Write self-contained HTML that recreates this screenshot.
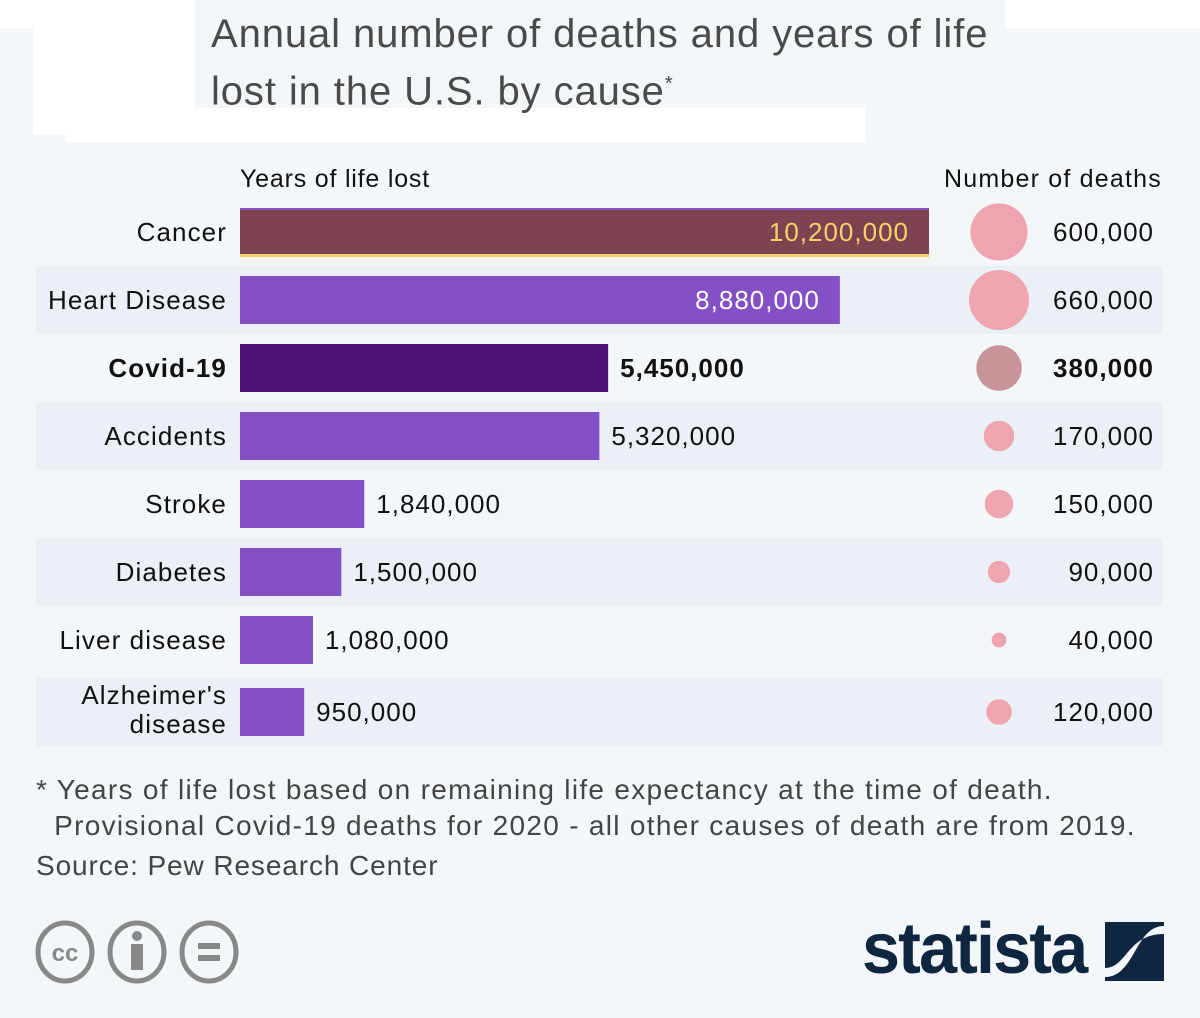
<!DOCTYPE html>
<html><head><meta charset="utf-8"><style>
body{margin:0;width:1200px;height:1018px;background:#f4f7fa;font-family:"Liberation Sans",sans-serif;position:relative;overflow:hidden}
.a{position:absolute}
</style></head><body>
<div class="a" style="left:0;top:0;width:195px;height:28px;background:#fff"></div>
<div class="a" style="left:1005px;top:0;width:195px;height:28px;background:#fff"></div>
<div class="a" style="left:33px;top:28px;width:162px;height:107px;background:#fff"></div>
<div class="a" style="left:65px;top:108px;width:800px;height:34px;background:#fff"></div>
<div class="a" style="left:211px;top:9px;font-size:40px;line-height:50px;color:#4a4a4a;letter-spacing:0.9px">Annual number of deaths and years of life<br>lost in the U.S. by cause<sup style="font-size:20px">*</sup></div>
<div class="a" style="left:240px;top:165px;font-size:25px;color:#111;letter-spacing:0.8px">Years of life lost</div>
<div class="a" style="left:944px;top:165px;font-size:25px;color:#111;letter-spacing:1.2px">Number of deaths</div>
<svg class="a" style="left:0;top:0" width="1200" height="1018" id="chart"></svg>
<div class="a" style="left:36px;top:772px;font-size:28px;line-height:36px;color:#444;letter-spacing:1.3px">* Years of life lost based on remaining life expectancy at the time of death.<br>&nbsp;&nbsp;Provisional Covid-19 deaths for 2020 - all other causes of death are from 2019.</div>
<div class="a" style="left:36px;top:850px;font-size:28px;color:#444;letter-spacing:0.9px">Source: Pew Research Center</div>
<svg class="a" style="left:30px;top:918px" width="220" height="70">
<g fill="none" stroke="#888" stroke-width="5"><ellipse cx="35" cy="34" rx="27" ry="29"/><ellipse cx="107" cy="34" rx="27" ry="29"/><ellipse cx="179" cy="34" rx="27" ry="29"/></g>
<text x="35" y="43" font-size="24" font-weight="bold" fill="#888" text-anchor="middle" font-family="Liberation Sans">cc</text>
<circle cx="107" cy="18" r="5" fill="#888"/><rect x="101" y="26" width="12" height="26" fill="#888"/>
<rect x="168" y="25" width="22" height="6" fill="#888"/><rect x="168" y="37" width="22" height="6" fill="#888"/></svg>
<div class="a" style="left:862px;top:908px;font-size:72px;font-weight:bold;color:#0f2640;letter-spacing:-2px;transform:scaleX(0.95);transform-origin:left">statista</div>
<svg class="a" style="left:1105px;top:922px" width="60" height="60"><rect width="59" height="59" fill="#0f2640"/><path d="M59 4 C30 4 30 55 0 55 L0 46 C22 46 22 12 59 12Z" fill="#f4f7fa"/></svg>
<script>
const categories=["Cancer","Heart Disease","Covid-19","Accidents","Stroke","Diabetes","Liver disease","Alzheimer's disease"];
const yearsLost=[10200000,8880000,5450000,5320000,1840000,1500000,1080000,950000];
const deaths=[600000,660000,380000,170000,150000,90000,40000,120000];
const yearsLabels=["10,200,000","8,880,000","5,450,000","5,320,000","1,840,000","1,500,000","1,080,000","950,000"];
const deathLabels=["600,000","660,000","380,000","170,000","150,000","90,000","40,000","120,000"];
const svg=document.getElementById('chart');const NS='http://www.w3.org/2000/svg';
const x=v=>v*67.55/1e6;const r=v=>30*Math.sqrt(v/660000);
const rowY=i=>i<7?232+68*i:712;
function mk(t,a){const e=document.createElementNS(NS,t);for(const k in a)e.setAttribute(k,a[k]);svg.appendChild(e);return e;}
categories.forEach((c,i)=>{
 const cy=rowY(i);
 if(i%2==1){const b=mk('rect',{x:36,y:i<7?cy-34:678,width:1127,height:68,fill:'#ebeff6'});
  
  }
 const bold=i==2;
 const col=i==0?'#7d4350':(bold?'#4f1279':'#8350c6');
 const w=x(yearsLost[i]);
 const bar=mk('rect',{x:240,y:cy-24,width:w,height:48,fill:col});
 
 
 if(i==0){mk('rect',{x:240,y:cy-24,width:w,height:2,fill:'#8350c6'});mk('rect',{x:240,y:cy+22,width:w,height:3,fill:'#f0d060'});}
 const inside=i<2;
 const vt=mk('text',{x:inside?240+w-20:240+w+12,y:cy+9,'font-size':26,'letter-spacing':1,'text-anchor':inside?'end':'start',fill:i==0?'#f5d36a':(inside?'#fff':'#111'),'font-weight':bold?'bold':'normal'});
 vt.textContent=yearsLabels[i];
 
 
 const lines=i==7?["Alzheimer's","disease"]:[c];
 lines.forEach((l,j)=>{const t=mk('text',{x:227,y:lines.length>1?cy-8+29*j:cy+9,'font-size':26,'letter-spacing':1.1,'text-anchor':'end',fill:'#111','font-weight':bold?'bold':'normal'});t.textContent=l;
  
  });
 const cir=mk('circle',{cx:999,cy:cy,r:r(deaths[i]),fill:bold?'#c8949a':'#eea5b0'});
 
 
 const dt=mk('text',{x:1154,y:cy+9,'font-size':26,'letter-spacing':1,'text-anchor':'end',fill:'#111','font-weight':bold?'bold':'normal'});dt.textContent=deathLabels[i];
 
 
});
</script>
</body></html>
